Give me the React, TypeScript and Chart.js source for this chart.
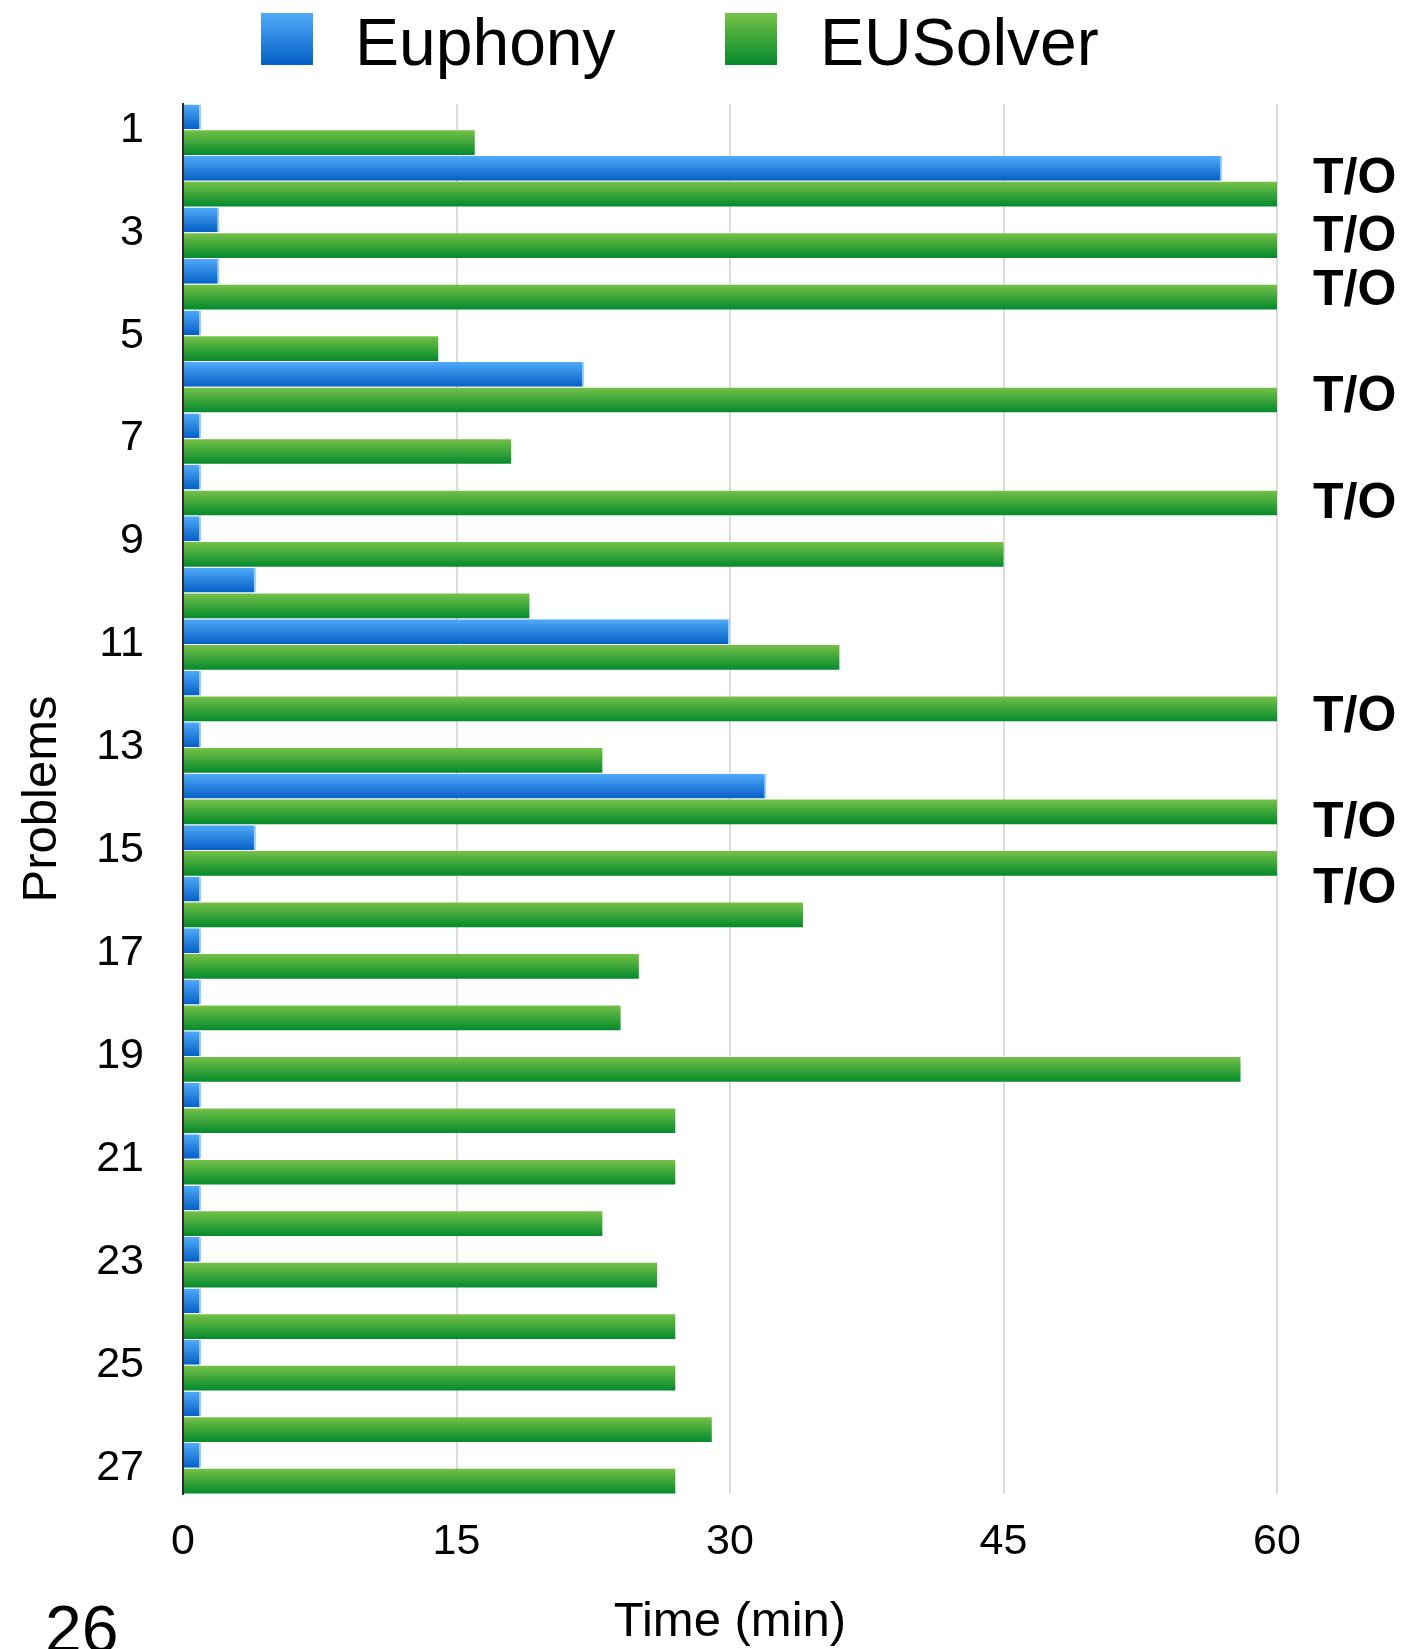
import React, { useEffect, useRef } from "react";
import { Chart, registerables } from "chart.js";

Chart.register(...registerables);

// ---- data ----
const problems = [
  "1", "2", "3", "4", "5", "6", "7", "8", "9", "10", "11", "12", "13", "14",
  "15", "16", "17", "18", "19", "20", "21", "22", "23", "24", "25", "26", "27",
];
const euphony = [1, 57, 2, 2, 1, 22, 1, 1, 1, 4, 30, 1, 1, 32, 4, 1, 1, 1, 1, 1, 1, 1, 1, 1, 1, 1, 1];
const eusolver = [16, 60, 60, 60, 14, 60, 18, 60, 45, 19, 36, 60, 23, 60, 60, 34, 25, 24, 58, 27, 27, 23, 26, 27, 27, 29, 27];
const seriesNames = ["Euphony", "EUSolver"];
const xTicks = [0, 15, 30, 45, 60];
const timeoutValue = 60;
const timeoutLabel = "T/O";
const xTitle = "Time (min)";
const yTitle = "Problems";
const pageNumber = "26";

const FONT = '"Liberation Sans", Arial, Helvetica, sans-serif';
const BLUE = ["#51aaf9", "#0460c6"];
const GREEN = ["#75c147", "#048a2c"];
const BAR_PCT = 0.96;
// vertical nudge of each T/O tag, in category heights (as placed in the original)
const TO_SHIFTS = [-0.04, 0.083, 0.132, 0.188, 0.28, 0.42, 0.475, 0.75];

export default function App() {
  const ref = useRef<HTMLCanvasElement>(null);

  useEffect(() => {
    const canvas = ref.current;
    if (!canvas) return;

    const gradFor = (stops: string[]) => (c: any) => {
      const chart = c.chart;
      const ys = chart.scales && chart.scales.y;
      if (!ys || c.dataIndex === undefined || ys.bottom === ys.top) return stops[1];
      const n = chart.data.labels.length;
      const catH = (ys.bottom - ys.top) / n;
      const center = ys.getPixelForValue(c.dataIndex) + (c.datasetIndex === 0 ? -catH / 4 : catH / 4);
      const half = (catH / 2) * BAR_PCT / 2;
      const g = chart.ctx.createLinearGradient(0, center - half, 0, center + half);
      g.addColorStop(0, stops[0]);
      g.addColorStop(1, stops[1]);
      return g;
    };

    const legendPlugin = {
      id: "customLegend",
      afterDraw(chart: any) {
        const ctx = chart.ctx;
        const items = [
          { box: 261, text: 355, stops: BLUE },
          { box: 725, text: 820, stops: GREEN },
        ];
        ctx.save();
        items.forEach((it, i) => {
          const g = ctx.createLinearGradient(0, 13, 0, 65);
          g.addColorStop(0, it.stops[0]);
          g.addColorStop(1, it.stops[1]);
          ctx.fillStyle = g;
          ctx.fillRect(it.box, 13, 52, 52);
          ctx.fillStyle = "#000";
          ctx.font = `66px ${FONT}`;
          ctx.textBaseline = "alphabetic";
          ctx.textAlign = "left";
          ctx.fillText(chart.data.datasets[i].label, it.text, 65);
        });
        // page number
        ctx.font = `66px ${FONT}`;
        ctx.fillStyle = "#000";
        ctx.fillText(pageNumber, 45, 1652);
        ctx.restore();
      },
    };

    const timeoutPlugin = {
      id: "timeoutTags",
      afterDatasetsDraw(chart: any) {
        const ctx = chart.ctx;
        const ys = chart.scales.y;
        const n = chart.data.labels.length;
        const catH = (ys.bottom - ys.top) / n;
        ctx.save();
        ctx.font = `bold 50px ${FONT}`;
        ctx.fillStyle = "#000";
        ctx.textAlign = "left";
        ctx.textBaseline = "middle";
        let k = 0;
        eusolver.forEach((v, i) => {
          if (v >= timeoutValue) {
            const y = ys.getPixelForValue(i) + (TO_SHIFTS[k] || 0) * catH;
            ctx.fillText(timeoutLabel, 1313, y);
            k++;
          }
        });
        ctx.restore();
      },
    };

    const chart = new Chart(canvas, {
      type: "bar",
      data: {
        labels: problems,
        datasets: [
          {
            label: seriesNames[0],
            data: euphony,
            backgroundColor: gradFor(BLUE),
            borderColor: "#9ccff9",
            borderWidth: { top: 0, bottom: 0, left: 0, right: 2 },
            borderSkipped: "start",
            barPercentage: BAR_PCT,
            categoryPercentage: 1,
          },
          {
            label: seriesNames[1],
            data: eusolver,
            backgroundColor: gradFor(GREEN),
            borderWidth: 0,
            barPercentage: BAR_PCT,
            categoryPercentage: 1,
          },
        ],
      },
      options: {
        indexAxis: "y",
        responsive: false,
        animation: false,
        events: [],
        layout: { padding: { top: 104, right: 145, bottom: 0, left: 0 } },
        plugins: {
          legend: { display: false },
          tooltip: { enabled: false },
          title: { display: false },
        },
        scales: {
          x: {
            type: "linear",
            min: 0,
            max: 60,
            afterBuildTicks: (s: any) => {
              s.ticks = xTicks.map((v) => ({ value: v }));
            },
            afterFit: (s: any) => {
              s.height = 155;
            },
            border: { display: false },
            grid: {
              drawTicks: false,
              lineWidth: 2,
              color: (c: any) => (c.tick && c.tick.value === 0 ? "rgba(0,0,0,0)" : "#dcdcdc"),
            },
            ticks: {
              padding: 22,
              color: "#000",
              font: { family: FONT, size: 43 },
              maxRotation: 0,
            },
            title: {
              display: true,
              text: xTitle,
              color: "#000",
              font: { family: FONT, size: 49, lineHeight: 1.08 },
              padding: { top: 0, bottom: 0 },
            },
          },
          y: {
            type: "category",
            afterFit: (s: any) => {
              s.width = 183;
            },
            border: { display: true, color: "#2a2a2a", width: 2 },
            grid: { display: false, drawTicks: false },
            ticks: {
              autoSkip: false,
              padding: 39,
              color: "#000",
              font: { family: FONT, size: 43 },
              callback: function (this: any, value: any, index: number) {
                return index % 2 === 0 ? this.getLabelForValue(value) : "";
              },
            },
            title: {
              display: true,
              text: yTitle,
              color: "#000",
              font: { family: FONT, size: 49 },
              padding: { top: 13, bottom: 0 },
            },
          },
        },
      },
      plugins: [legendPlugin, timeoutPlugin],
    } as any);

    return () => chart.destroy();
  }, []);

  return (
    <div style={{ position: "absolute", left: 0, top: 0, width: 1422, height: 1649, background: "#fff" }}>
      <canvas ref={ref} width={1422} height={1649} style={{ display: "block", width: 1422, height: 1649 }} />
    </div>
  );
}
